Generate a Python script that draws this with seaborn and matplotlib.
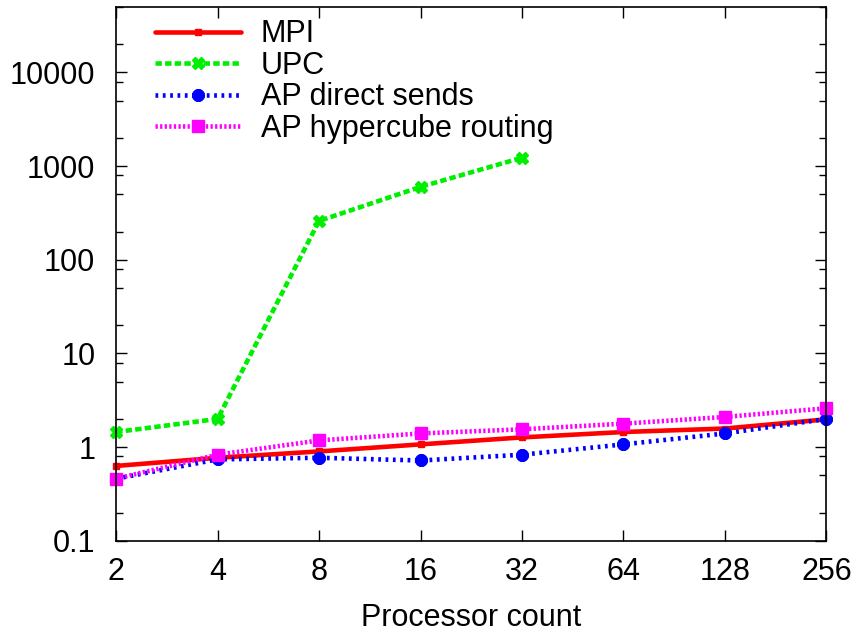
import numpy as np
import pandas as pd
import seaborn as sns
import matplotlib.pyplot as plt
from matplotlib.ticker import FixedLocator, NullFormatter, LogLocator

# --- dados ---
processadores = [2, 4, 8, 16, 32, 64, 128, 256]
mpi = [0.63, 0.77, 0.90, 1.07, 1.27, 1.45, 1.58, 1.98]
upc = [1.45, 2.0, 260, 600, 1230]
ap_direct = [0.46, 0.74, 0.77, 0.72, 0.83, 1.07, 1.40, 2.0]
ap_hypercube = [0.46, 0.83, 1.18, 1.40, 1.55, 1.78, 2.10, 2.60]
rotulos_x = ['2', '4', '8', '16', '32', '64', '128', '256']
rotulos_y = ['0.1', '1', '10', '100', '1000', '10000']
valores_y = [0.1, 1, 10, 100, 1000, 10000]

series = [
    ('MPI', processadores, mpi,
     dict(color='#ff0000', ls='-', marker='s', ms=4, mew=1)),
    ('UPC', processadores[:5], upc,
     dict(color='#00ee00', ls=(0, (1.4, 0.7)), marker='X', ms=8, mew=1)),
    ('AP direct sends', processadores, ap_direct,
     dict(color='#0000ff', ls=(0, (0.6, 1.0)), marker=(8, 2, 0), ms=9, mew=3)),
    ('AP hypercube routing', processadores, ap_hypercube,
     dict(color='#ff00ff', ls=(0, (0.5, 0.5)), marker='s', ms=9, mew=1)),
]

sns.set_style('ticks')
plt.rcParams['font.family'] = ['Liberation Sans', 'DejaVu Sans']
plt.rcParams['text.color'] = 'black'
plt.rcParams['axes.labelcolor'] = 'black'
plt.rcParams['xtick.color'] = 'black'
plt.rcParams['ytick.color'] = 'black'
plt.rcParams['axes.edgecolor'] = 'black'

fig, ax = plt.subplots(figsize=(8.6, 6.34), dpi=100)
fig.subplots_adjust(left=0.135, right=0.961, top=0.989, bottom=0.147)

for nome, xs, ys, estilo in series:
    df = pd.DataFrame({'x': xs, 'y': ys})
    sns.lineplot(data=df, x='x', y='y', ax=ax, label=nome, lw=3.3,
                 mec=estilo['color'], clip_on=False, **estilo)

ax.set_xscale('log', base=2)
ax.set_yscale('log')
ax.set_xlim(2, 256)
ax.set_ylim(0.1, 50000)
ax.xaxis.set_major_locator(FixedLocator(processadores))
ax.set_xticklabels(rotulos_x)
ax.xaxis.set_minor_locator(FixedLocator([]))
ax.yaxis.set_major_locator(FixedLocator(valores_y))
ax.set_yticklabels(rotulos_y)
ax.yaxis.set_minor_locator(LogLocator(base=10, subs=[2, 5, 8]))
ax.yaxis.set_minor_formatter(NullFormatter())

ax.tick_params(which='both', direction='in', top=True, right=True, labelsize=22, width=1)
ax.tick_params(axis='y', which='major', length=8, pad=15)
ax.tick_params(axis='x', which='major', length=8, pad=12)
ax.tick_params(which='minor', length=5)
for s in ax.spines.values():
    s.set_linewidth(1.2)

ax.set_xlabel('Processor count', fontsize=22, labelpad=11)
ax.set_ylabel('')

ax.legend(loc='upper left', frameon=False, fontsize=22, handlelength=2.8,
          labelspacing=0.05, borderaxespad=0.0, bbox_to_anchor=(0.038, 1.0),
          handletextpad=0.65)

fig.savefig('out.png', dpi=100)
